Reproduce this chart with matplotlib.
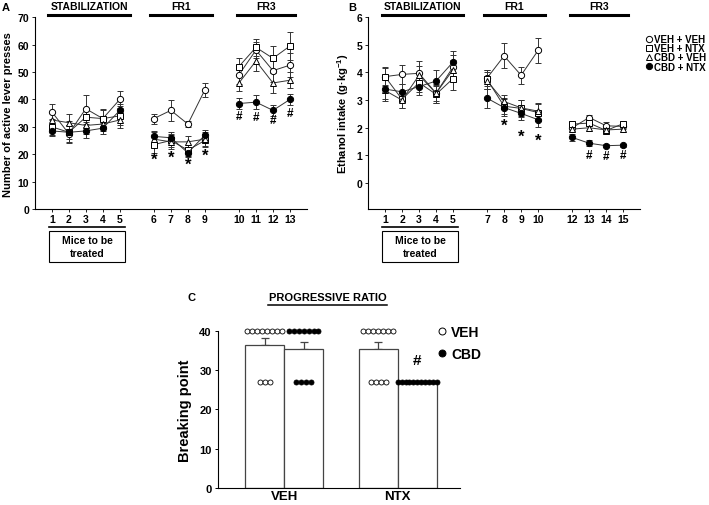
import matplotlib
matplotlib.use("Agg")
import matplotlib.pyplot as plt
from matplotlib.lines import Line2D
from matplotlib.patches import Rectangle
import numpy as np

plt.rcParams['font.family'] = ['Liberation Sans', 'DejaVu Sans']
plt.rcParams['font.weight'] = 'bold'
plt.rcParams['mathtext.default'] = 'regular'

# ---- data ----
day_pos = [1, 2, 3, 4, 5, 7, 8, 9, 10, 12, 13, 14, 15]
lever_day_labels = ['1', '2', '3', '4', '5', '6', '7', '8', '9', '10', '11', '12', '13']
intake_day_labels = ['1', '2', '3', '4', '5', '7', '8', '9', '10', '12', '13', '14', '15']
groups = ['VEH + VEH', 'VEH + NTX', 'CBD + VEH', 'CBD + NTX']

# panel A: active lever presses
lever_veh_veh = [35.5, 27.5, 36.6, 33.0, 40.0, 33.0, 36.0, 31.0, 43.5, 49.0, 58.0, 50.5, 52.5]
lever_veh_ntx = [30.0, 28.0, 33.5, 33.0, 34.0, 23.5, 25.0, 21.5, 25.0, 52.0, 59.0, 55.0, 59.5]
lever_cbd_veh = [32.5, 31.5, 30.5, 31.0, 32.5, 25.5, 24.5, 24.5, 25.5, 46.0, 54.0, 46.0, 47.0]
lever_cbd_ntx = [28.5, 28.0, 28.5, 29.5, 36.0, 26.5, 26.0, 20.5, 27.0, 38.5, 39.0, 36.0, 40.0]
lever_veh_veh_err = [3.0, 3.0, 5.0, 3.5, 3.0, 1.8, 3.8, 1.0, 2.5, 3.5, 3.0, 4.0, 4.5]
lever_veh_ntx_err = [3.0, 4.0, 3.5, 3.0, 3.5, 3.0, 2.5, 2.0, 2.5, 3.0, 3.0, 4.5, 5.0]
lever_cbd_veh_err = [3.0, 3.0, 3.0, 2.5, 3.0, 2.5, 2.5, 2.0, 2.5, 3.0, 3.5, 3.5, 3.0]
lever_cbd_ntx_err = [2.0, 2.5, 2.5, 2.0, 2.5, 2.0, 2.0, 1.5, 2.0, 2.0, 2.5, 2.0, 2.0]
lever_star_pos = [7, 8, 9, 10]
lever_star_y = [18.2, 19.0, 16.5, 19.5]
lever_hash_pos = [12, 13, 14, 15]
lever_hash_y = [34.0, 33.5, 32.5, 35.0]

# panel B: ethanol intake
intake_veh_veh = [3.85, 3.93, 3.97, 3.25, 4.20, 3.80, 4.60, 3.90, 4.80, 2.00, 2.37, 2.07, 2.05]
intake_veh_ntx = [3.85, 3.03, 3.63, 3.21, 3.78, 3.75, 2.78, 2.70, 2.55, 2.13, 2.17, 1.90, 2.15]
intake_cbd_veh = [3.35, 3.00, 3.90, 3.25, 4.10, 3.70, 2.95, 2.72, 2.60, 1.95, 2.00, 1.92, 1.95]
intake_cbd_ntx = [3.40, 3.30, 3.49, 3.69, 4.38, 3.07, 2.73, 2.52, 2.29, 1.65, 1.44, 1.35, 1.37]
intake_veh_veh_err = [0.30, 0.35, 0.45, 0.30, 0.45, 0.30, 0.45, 0.30, 0.45, 0.12, 0.10, 0.12, 0.10]
intake_veh_ntx_err = [0.35, 0.30, 0.35, 0.30, 0.40, 0.35, 0.30, 0.30, 0.30, 0.12, 0.12, 0.10, 0.10]
intake_cbd_veh_err = [0.40, 0.30, 0.35, 0.35, 0.35, 0.30, 0.25, 0.30, 0.30, 0.10, 0.12, 0.10, 0.10]
intake_cbd_ntx_err = [0.35, 0.30, 0.30, 0.40, 0.40, 0.35, 0.30, 0.25, 0.25, 0.12, 0.10, 0.05, 0.05]
intake_star_pos = [8, 9, 10]
intake_star_y = [2.09, 1.70, 1.56]
intake_hash_pos = [13, 14, 15]
intake_hash_y = [1.00, 0.97, 1.00]

# panel C: progressive ratio breaking point
pr_groups = ['VEH', 'NTX']
pr_means = [36.5, 35.3, 35.3, 27.0]            # VEH/VEH, VEH/CBD, NTX/VEH, NTX/CBD
pr_err = [1.8, 2.0, 2.0, 0.0]
pr_n_at_40 = [8, 7, 7, 0]
pr_n_at_27 = [3, 4, 4, 11]
pr_hash_y = 32.5

phases = [(0, 5), (5, 9), (9, 13)]
styles = [('o', 'white'), ('s', 'white'), ('^', 'white'), ('o', 'black')]
dark = '#333333'

fig = plt.figure(figsize=(7.09, 5.06), dpi=100)


def draw_series(ax, vals, errs, marker, face):
    for a, b in phases:
        x = day_pos[a:b]
        ax.errorbar(x, vals[a:b], yerr=errs[a:b], fmt='none', ecolor=dark,
                    elinewidth=0.7, capsize=2.5, capthick=0.7, zorder=2)
        ax.plot(x, vals[a:b], color=dark, lw=0.7, marker=marker, ms=4.5,
                mfc=face, mec='black', mew=0.7, zorder=3)


def decorate(ax):
    for s in ['top', 'right']:
        ax.spines[s].set_visible(False)
    for s in ['left', 'bottom']:
        ax.spines[s].set_linewidth(0.8)
    ax.set_xlim(0, 16)
    ax.tick_params(axis='both', labelsize=7.5, length=2, width=0.6, pad=2)
    ax.tick_params(axis='x', pad=1.5)
    for lab in ax.get_xticklabels() + ax.get_yticklabels():
        lab.set_fontweight('bold')
    tr = ax.get_xaxis_transform()
    heads = [('STABILIZATION', 0.8, 5.6), ('FR1', 6.8, 10.4), ('FR3', 11.9, 15.3)]
    for name, x0, x1 in heads:
        ax.plot([x0, x1], [1.01, 1.01], color='black', lw=2.2, transform=tr, clip_on=False)
        ax.text((x0 + x1) / 2, 1.03, name, transform=tr, ha='center', va='bottom',
                fontsize=7.5, fontweight='bold')
    ax.plot([0.85, 5.3], [-0.092, -0.092], color='black', lw=1.2, transform=tr, clip_on=False)
    ax.add_patch(Rectangle((0.85, -0.275), 4.45, 0.16, transform=tr, fill=False,
                           lw=0.8, ec='black', clip_on=False))
    ax.text(3.07, -0.195, 'Mice to be\ntreated', transform=tr, ha='center', va='center',
            fontsize=7.5, fontweight='bold', linespacing=1.3)


# ---- panel A ----
axA = fig.add_axes([0.049, 0.585, 0.384, 0.379])
lever = [lever_veh_veh, lever_veh_ntx, lever_cbd_veh, lever_cbd_ntx]
lever_err = [lever_veh_veh_err, lever_veh_ntx_err, lever_cbd_veh_err, lever_cbd_ntx_err]
for vals, errs, (m, f) in zip(lever, lever_err, styles):
    draw_series(axA, vals, errs, m, f)
axA.set_ylim(0, 70)
axA.set_yticks(np.arange(0, 71, 10))
axA.set_xticks(day_pos)
axA.set_xticklabels(lever_day_labels)
decorate(axA)
for x, y in zip(lever_star_pos, lever_star_y):
    axA.text(x, y, '*', ha='center', va='center', fontsize=12, fontweight='bold')
for x, y in zip(lever_hash_pos, lever_hash_y):
    axA.text(x, y, '#', ha='center', va='center', fontsize=8.5, fontweight='bold')
axA.set_ylabel('Number of active lever presses', fontsize=8, fontweight='bold', labelpad=3)
fig.text(0.003, 0.984, 'A', fontsize=8, fontweight='bold', va='center')

# ---- panel B ----
axB = fig.add_axes([0.519, 0.585, 0.384, 0.379])
intake = [intake_veh_veh, intake_veh_ntx, intake_cbd_veh, intake_cbd_ntx]
intake_err = [intake_veh_veh_err, intake_veh_ntx_err, intake_cbd_veh_err, intake_cbd_ntx_err]
for vals, errs, (m, f) in zip(intake, intake_err, styles):
    draw_series(axB, vals, errs, m, f)
axB.set_ylim(-0.94, 6)
axB.set_yticks(np.arange(0, 7, 1))
axB.set_xticks(day_pos)
axB.set_xticklabels(intake_day_labels)
decorate(axB)
for x, y in zip(intake_star_pos, intake_star_y):
    axB.text(x, y, '*', ha='center', va='center', fontsize=12, fontweight='bold')
for x, y in zip(intake_hash_pos, intake_hash_y):
    axB.text(x, y, '#', ha='center', va='center', fontsize=8.5, fontweight='bold')
axB.set_ylabel('Ethanol intake (g\u00b7kg$^{-1}$)', fontsize=8, fontweight='bold', labelpad=4)
fig.text(0.491, 0.984, 'B', fontsize=8, fontweight='bold', va='center')

handles = [Line2D([], [], ls='none', marker=m, mfc=f, mec='black', mew=0.7, ms=4.5)
           for m, f in styles]
fig.legend(handles, groups, loc='upper left', bbox_to_anchor=(0.912, 0.93),
           frameon=False, handlelength=0.5, handletextpad=0.25,
           labelspacing=-0.1, borderpad=0, borderaxespad=0,
           prop={'weight': 'bold', 'size': 7})

# ---- panel C ----
axC = fig.add_axes([0.3075, 0.0336, 0.3413, 0.3103])
bar_x = [0, 1, 2.9, 3.9]
dot_face = ['white', 'black', 'white', 'black']
axC.bar(bar_x, pr_means, width=1.0, color='white', edgecolor='#444444', lw=0.9, zorder=2)
axC.errorbar(bar_x, pr_means, yerr=[[0] * 4, pr_err], fmt='none', ecolor='#444444',
             elinewidth=0.9, capsize=3, capthick=0.9, zorder=1)
step = 0.125
for x, face, n40, n27 in zip(bar_x, dot_face, pr_n_at_40, pr_n_at_27):
    for level, n in [(40, n40), (27, n27)]:
        if n == 0:
            continue
        sp = step if n < 10 else 0.1
        xs = x + (np.arange(n) - (n - 1) / 2) * sp
        axC.plot(xs, [level] * n, ls='none', marker='o', ms=3.6, mfc=face, mec='black',
                 mew=0.6, zorder=4, clip_on=False)
axC.text(bar_x[3], pr_hash_y, '#', ha='center', va='center', fontsize=11, fontweight='bold')
axC.set_xlim(-1.19, 4.99)
axC.set_ylim(0, 40)
axC.set_yticks([0, 10, 20, 30, 40])
axC.set_xticks([0.5, 3.4])
axC.set_xticklabels(pr_groups)
for s in ['top', 'right']:
    axC.spines[s].set_visible(False)
axC.tick_params(axis='y', labelsize=8, length=2.5, width=0.7, pad=2)
axC.tick_params(axis='x', labelsize=9.5, length=0, pad=1.5)
for lab in axC.get_xticklabels() + axC.get_yticklabels():
    lab.set_fontweight('bold')
axC.set_ylabel('Breaking point', fontsize=10.5, fontweight='bold', labelpad=5)
axC.text(1.62, 48.6, 'PROGRESSIVE RATIO', ha='center', va='center', fontsize=8,
         fontweight='bold', clip_on=False)
axC.plot([0.09, 3.12], [46.6, 46.6], color='black', lw=1.1, clip_on=False)
fig.text(0.265, 0.411, 'C', fontsize=8, fontweight='bold', va='center')

c_handles = [Line2D([], [], ls='none', marker='o', mfc=f, mec='black', mew=0.7, ms=5)
             for f in ['white', 'black']]
fig.legend(c_handles, ['VEH', 'CBD'], loc='upper left', bbox_to_anchor=(0.617, 0.356),
           frameon=False, handlelength=0.6, handletextpad=0.4, labelspacing=0.6,
           borderpad=0, borderaxespad=0, prop={'weight': 'bold', 'size': 10})

fig.savefig('out.png', dpi=100)
